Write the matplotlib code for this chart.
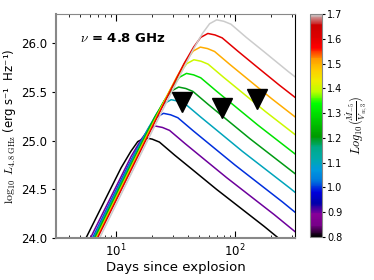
import matplotlib
matplotlib.use('Agg')
import matplotlib.pyplot as plt
from matplotlib import cm, colors

plt.rcParams['mathtext.fontset'] = 'cm'
plt.rcParams['font.family'] = 'DejaVu Sans'

# log10(Mdot_-5 / V_w,3) of each model curve
mdot = [0.8, 0.9, 1.0, 1.1, 1.2, 1.3, 1.4, 1.5, 1.6, 1.7]

# model light curves: days and log10 L
days = [
    [1.75, 5.53, 8.77, 11.0, 13.3, 15.2, 17.5, 20.1, 23.1, 31.1, 44.0, 69.7, 175, 349],
    [2.13, 6.74, 10.7, 13.4, 16.2, 18.6, 21.3, 24.5, 28.1, 37.9, 53.5, 84.8, 213, 425],
    [2.50, 7.91, 12.5, 15.8, 19.0, 21.8, 25.0, 28.7, 33.0, 44.5, 62.8, 99.5, 250, 499],
    [2.90, 9.17, 14.5, 18.3, 22.0, 25.3, 29.0, 33.3, 38.2, 51.6, 72.8, 115, 290, 579],
    [3.35, 10.6, 16.8, 21.1, 25.4, 29.2, 33.5, 38.5, 44.2, 59.6, 84.1, 133, 335, 668],
    [3.90, 12.3, 19.5, 24.6, 29.6, 34.0, 39.0, 44.8, 51.4, 69.4, 98.0, 155, 390, 778],
    [4.50, 14.2, 22.6, 28.4, 34.1, 39.2, 45.0, 51.7, 59.3, 80.0, 113, 179, 450, 898],
    [5.10, 16.1, 25.6, 32.2, 38.7, 44.4, 51.0, 58.6, 67.2, 90.7, 128, 203, 510, 1018],
    [5.90, 18.7, 29.6, 37.2, 44.8, 51.4, 59.0, 67.7, 77.8, 105, 148, 235, 590, 1177],
    [7.00, 22.1, 35.1, 44.2, 53.1, 61.0, 70.0, 80.4, 92.3, 124, 176, 279, 700, 1397],
]
logL = [
    [22.75, 23.99, 24.48, 24.72, 24.89, 24.99, 25.03, 25.015, 24.985, 24.85, 24.70, 24.50, 24.12, 23.82],
    [22.87, 24.11, 24.60, 24.84, 25.01, 25.11, 25.15, 25.135, 25.105, 24.97, 24.82, 24.62, 24.24, 23.94],
    [23.00, 24.24, 24.73, 24.97, 25.14, 25.24, 25.28, 25.265, 25.235, 25.10, 24.95, 24.75, 24.37, 24.07],
    [23.14, 24.38, 24.87, 25.11, 25.28, 25.38, 25.42, 25.405, 25.375, 25.24, 25.09, 24.89, 24.51, 24.21],
    [23.27, 24.51, 25.00, 25.24, 25.41, 25.51, 25.55, 25.535, 25.505, 25.37, 25.22, 25.02, 24.64, 24.34],
    [23.41, 24.65, 25.14, 25.38, 25.55, 25.65, 25.69, 25.675, 25.645, 25.51, 25.36, 25.16, 24.78, 24.48],
    [23.55, 24.79, 25.28, 25.52, 25.69, 25.79, 25.83, 25.815, 25.785, 25.65, 25.50, 25.30, 24.92, 24.62],
    [23.68, 24.92, 25.41, 25.65, 25.82, 25.92, 25.96, 25.945, 25.915, 25.78, 25.63, 25.43, 25.05, 24.75],
    [23.82, 25.06, 25.55, 25.79, 25.96, 26.06, 26.10, 26.085, 26.055, 25.92, 25.77, 25.57, 25.19, 24.89],
    [23.96, 25.20, 25.69, 25.93, 26.10, 26.20, 26.24, 26.225, 26.195, 26.06, 25.91, 25.71, 25.33, 25.03],
]

# upper limits
lim_days = [35.9, 77.9, 151.7]
lim_logL = [25.395, 25.33, 25.43]

fig = plt.figure(figsize=(3.74, 2.8), dpi=100)
ax = fig.add_axes([0.150, 0.150, 0.639, 0.800])
cax = fig.add_axes([0.829, 0.154, 0.032, 0.796])

norm = colors.Normalize(vmin=0.8, vmax=1.7)
cmap = plt.get_cmap('nipy_spectral')

for m, d, l in zip(mdot, days, logL):
    ax.plot(d, l, color=cmap(norm(m)), lw=1.1)

ax.plot(lim_days, lim_logL, 'v', color='k', ms=14, zorder=5)

ax.set_xscale('log')
ax.set_xlim(3.13, 319)
ax.set_ylim(24.0, 26.3)
ax.set_yticks([24.0, 24.5, 25.0, 25.5, 26.0])
ax.yaxis.set_major_formatter(matplotlib.ticker.FormatStrFormatter('%.1f'))

ax.tick_params(axis='x', which='both', direction='in', top=True, labelsize=8.5)
ax.tick_params(axis='x', which='major', length=5)
ax.tick_params(axis='x', which='minor', length=2.5)
ax.tick_params(axis='y', direction='out', length=3, labelsize=8.5)

for s in ['left', 'bottom']:
    ax.spines[s].set_color('#888888')
    ax.spines[s].set_linewidth(1.5)
ax.spines['top'].set_color('#888888')
ax.spines['top'].set_linewidth(0.8)
ax.spines['right'].set_linewidth(0.8)

ax.set_xlabel('Days since explosion', fontsize=9.5, labelpad=1)
ax.set_ylabel(r'$\log_{10}\ L_{4.8\ \rm GHz}$ (erg s⁻¹  Hz⁻¹)', fontsize=8.5, labelpad=2)

ax.text(0.10, 0.89, r'$\nu$ = 4.8 GHz', transform=ax.transAxes,
        fontsize=9.5, fontweight='bold', va='center')

sm = cm.ScalarMappable(norm=norm, cmap=cmap)
cb = fig.colorbar(sm, cax=cax, ticks=mdot)
cb.ax.tick_params(labelsize=7, length=2, pad=1.5)
cb.outline.set_edgecolor('#888888')
cb.set_label(r'$Log_{10}(\frac{\dot{M}_{-5}}{V_{w,3}})$', fontsize=9, labelpad=1)

fig.savefig('out.png', dpi=100)
